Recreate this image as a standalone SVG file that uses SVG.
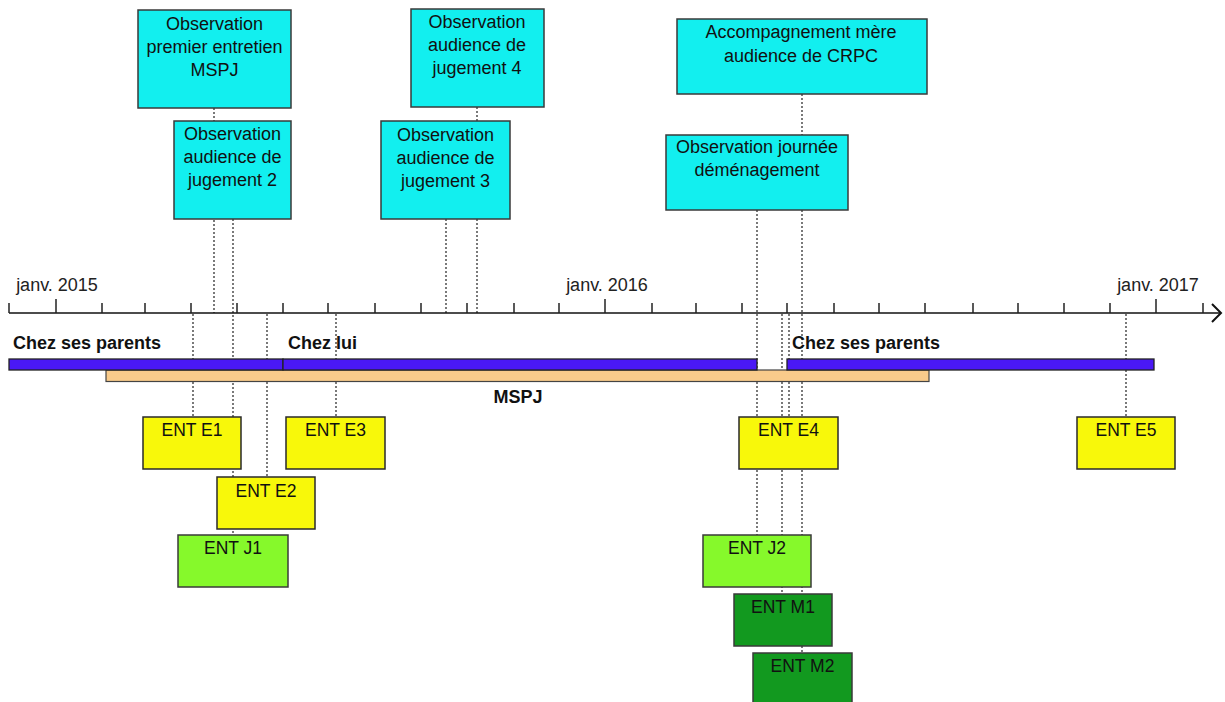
<svg xmlns="http://www.w3.org/2000/svg" width="1225" height="702" viewBox="0 0 1225 702">
<style>
.obs{fill:#12EFEF;stroke:#3a3a3a;stroke-width:1.5}
.ye{fill:#F8F80A;stroke:#2a2a2a;stroke-width:1.5}
.lg{fill:#86F92B;stroke:#3a3a3a;stroke-width:1.5}
.dg{fill:#12991F;stroke:#3a3a3a;stroke-width:1.5}
.t{font-family:"Liberation Sans",Arial,sans-serif;font-size:18px;fill:#111;text-anchor:middle}
.te{font-family:"Liberation Sans",Arial,sans-serif;font-size:17.5px;fill:#111;text-anchor:middle}
.ax{font-family:"Liberation Sans",Arial,sans-serif;font-size:18px;fill:#222;text-anchor:middle}
.b{font-family:"Liberation Sans",Arial,sans-serif;font-size:18px;font-weight:bold;fill:#111}
.dot{stroke:#333;stroke-width:1.3;stroke-dasharray:2,2;fill:none}
.tk{stroke:#222;stroke-width:1.5}
</style>
<g id="connectors">
<line class="dot" x1="214" y1="108" x2="214" y2="313"/>
<line class="dot" x1="233" y1="219" x2="233" y2="535"/>
<line class="dot" x1="193" y1="314" x2="193" y2="417"/>
<line class="dot" x1="267" y1="314" x2="267" y2="477"/>
<line class="dot" x1="336" y1="314" x2="336" y2="417"/>
<line class="dot" x1="446" y1="219" x2="446" y2="313"/>
<line class="dot" x1="477" y1="107" x2="477" y2="313"/>
<line class="dot" x1="757" y1="210" x2="757" y2="535"/>
<line class="dot" x1="802" y1="94" x2="802" y2="653"/>
<line class="dot" x1="782" y1="314" x2="782" y2="594"/>
<line class="dot" x1="789" y1="314" x2="789" y2="417"/>
<line class="dot" x1="1126" y1="314" x2="1126" y2="417"/>
</g>
<g id="axis">
<line x1="9" y1="313" x2="1221" y2="313" stroke="#111" stroke-width="1.5"/>
<polyline points="1212,304 1221,313 1212,322" fill="none" stroke="#111" stroke-width="2"/>
<g class="tk">
<line x1="9" y1="303" x2="9" y2="313"/>
<line x1="56" y1="299" x2="56" y2="313"/>
<line x1="102" y1="303" x2="102" y2="313"/>
<line x1="145" y1="303" x2="145" y2="313"/>
<line x1="191" y1="303" x2="191" y2="313"/>
<line x1="237" y1="303" x2="237" y2="313"/>
<line x1="283" y1="303" x2="283" y2="313"/>
<line x1="328" y1="303" x2="328" y2="313"/>
<line x1="375" y1="303" x2="375" y2="313"/>
<line x1="421" y1="303" x2="421" y2="313"/>
<line x1="467" y1="303" x2="467" y2="313"/>
<line x1="514" y1="303" x2="514" y2="313"/>
<line x1="559" y1="303" x2="559" y2="313"/>
<line x1="605" y1="299" x2="605" y2="313"/>
<line x1="652" y1="303" x2="652" y2="313"/>
<line x1="696" y1="303" x2="696" y2="313"/>
<line x1="742" y1="303" x2="742" y2="313"/>
<line x1="787" y1="303" x2="787" y2="313"/>
<line x1="834" y1="303" x2="834" y2="313"/>
<line x1="879" y1="303" x2="879" y2="313"/>
<line x1="925" y1="303" x2="925" y2="313"/>
<line x1="973" y1="303" x2="973" y2="313"/>
<line x1="1018" y1="303" x2="1018" y2="313"/>
<line x1="1064" y1="303" x2="1064" y2="313"/>
<line x1="1110" y1="303" x2="1110" y2="313"/>
<line x1="1156" y1="299" x2="1156" y2="313"/>
<line x1="1203" y1="303" x2="1203" y2="313"/>
</g>
<text class="ax" x="57" y="291">janv. 2015</text>
<text class="ax" x="607" y="291">janv. 2016</text>
<text class="ax" x="1158" y="291">janv. 2017</text>
</g>
<g id="bars">
<rect id="mspj" x="106" y="370" width="823" height="11.5" fill="#F9CB8B" stroke="#444" stroke-width="1.2"/>
<rect id="chez-parents-1" x="9" y="359" width="274" height="11" fill="#4A18F5" stroke="#222" stroke-width="1.3"/>
<rect id="chez-lui" x="283" y="359" width="474" height="11" fill="#4A18F5" stroke="#222" stroke-width="1.3"/>
<rect id="chez-parents-2" x="787" y="359" width="367" height="11" fill="#4A18F5" stroke="#222" stroke-width="1.3"/>
<text class="b" x="13" y="349">Chez ses parents</text>
<text class="b" x="288" y="349">Chez lui</text>
<text class="b" x="792" y="349">Chez ses parents</text>
<text class="b" x="518" y="403" text-anchor="middle">MSPJ</text>
</g>
<g id="obs-premier-entretien">
<rect class="obs" x="138" y="10" width="153" height="98"/>
<text class="t" x="214.5" y="30">Observation</text>
<text class="t" x="214.5" y="53">premier entretien</text>
<text class="t" x="214.5" y="76">MSPJ</text>
</g>
<g id="obs-jugement-2">
<rect class="obs" x="174" y="121" width="117" height="98"/>
<text class="t" x="232.5" y="140">Observation</text>
<text class="t" x="232.5" y="163">audience de</text>
<text class="t" x="232.5" y="186">jugement 2</text>
</g>
<g id="obs-jugement-4">
<rect class="obs" x="411" y="9" width="133" height="98"/>
<text class="t" x="477" y="28">Observation</text>
<text class="t" x="477" y="51">audience de</text>
<text class="t" x="477" y="74">jugement 4</text>
</g>
<g id="obs-jugement-3">
<rect class="obs" x="381" y="121" width="129" height="98"/>
<text class="t" x="445.5" y="141">Observation</text>
<text class="t" x="445.5" y="164">audience de</text>
<text class="t" x="445.5" y="187">jugement 3</text>
</g>
<g id="accompagnement-crpc">
<rect class="obs" x="677" y="19" width="250" height="75"/>
<text class="t" x="801" y="38">Accompagnement mère</text>
<text class="t" x="801" y="62">audience de CRPC</text>
</g>
<g id="obs-demenagement">
<rect class="obs" x="666" y="135" width="182" height="75"/>
<text class="t" x="757" y="153">Observation journée</text>
<text class="t" x="757" y="176">déménagement</text>
</g>
<g id="ent-e1">
<rect class="ye" x="143" y="417" width="98" height="52"/>
<text class="te" x="192" y="436">ENT E1</text>
</g>
<g id="ent-e3">
<rect class="ye" x="286" y="417" width="99" height="52"/>
<text class="te" x="335.5" y="436">ENT E3</text>
</g>
<g id="ent-e2">
<rect class="ye" x="217" y="477" width="98" height="52"/>
<text class="te" x="266" y="497">ENT E2</text>
</g>
<g id="ent-j1">
<rect class="lg" x="178" y="535" width="110" height="52"/>
<text class="te" x="233" y="554">ENT J1</text>
</g>
<g id="ent-e4">
<rect class="ye" x="739" y="417" width="99" height="52"/>
<text class="te" x="788.5" y="436">ENT E4</text>
</g>
<g id="ent-j2">
<rect class="lg" x="703" y="535" width="108" height="52"/>
<text class="te" x="757" y="554">ENT J2</text>
</g>
<g id="ent-m1">
<rect class="dg" x="734" y="594" width="98" height="52"/>
<text class="te" x="783" y="613">ENT M1</text>
</g>
<g id="ent-m2">
<rect class="dg" x="753" y="653" width="99" height="52"/>
<text class="te" x="802.5" y="672">ENT M2</text>
</g>
<g id="ent-e5">
<rect class="ye" x="1077" y="417" width="98" height="52"/>
<text class="te" x="1126" y="436">ENT E5</text>
</g>
</svg>
